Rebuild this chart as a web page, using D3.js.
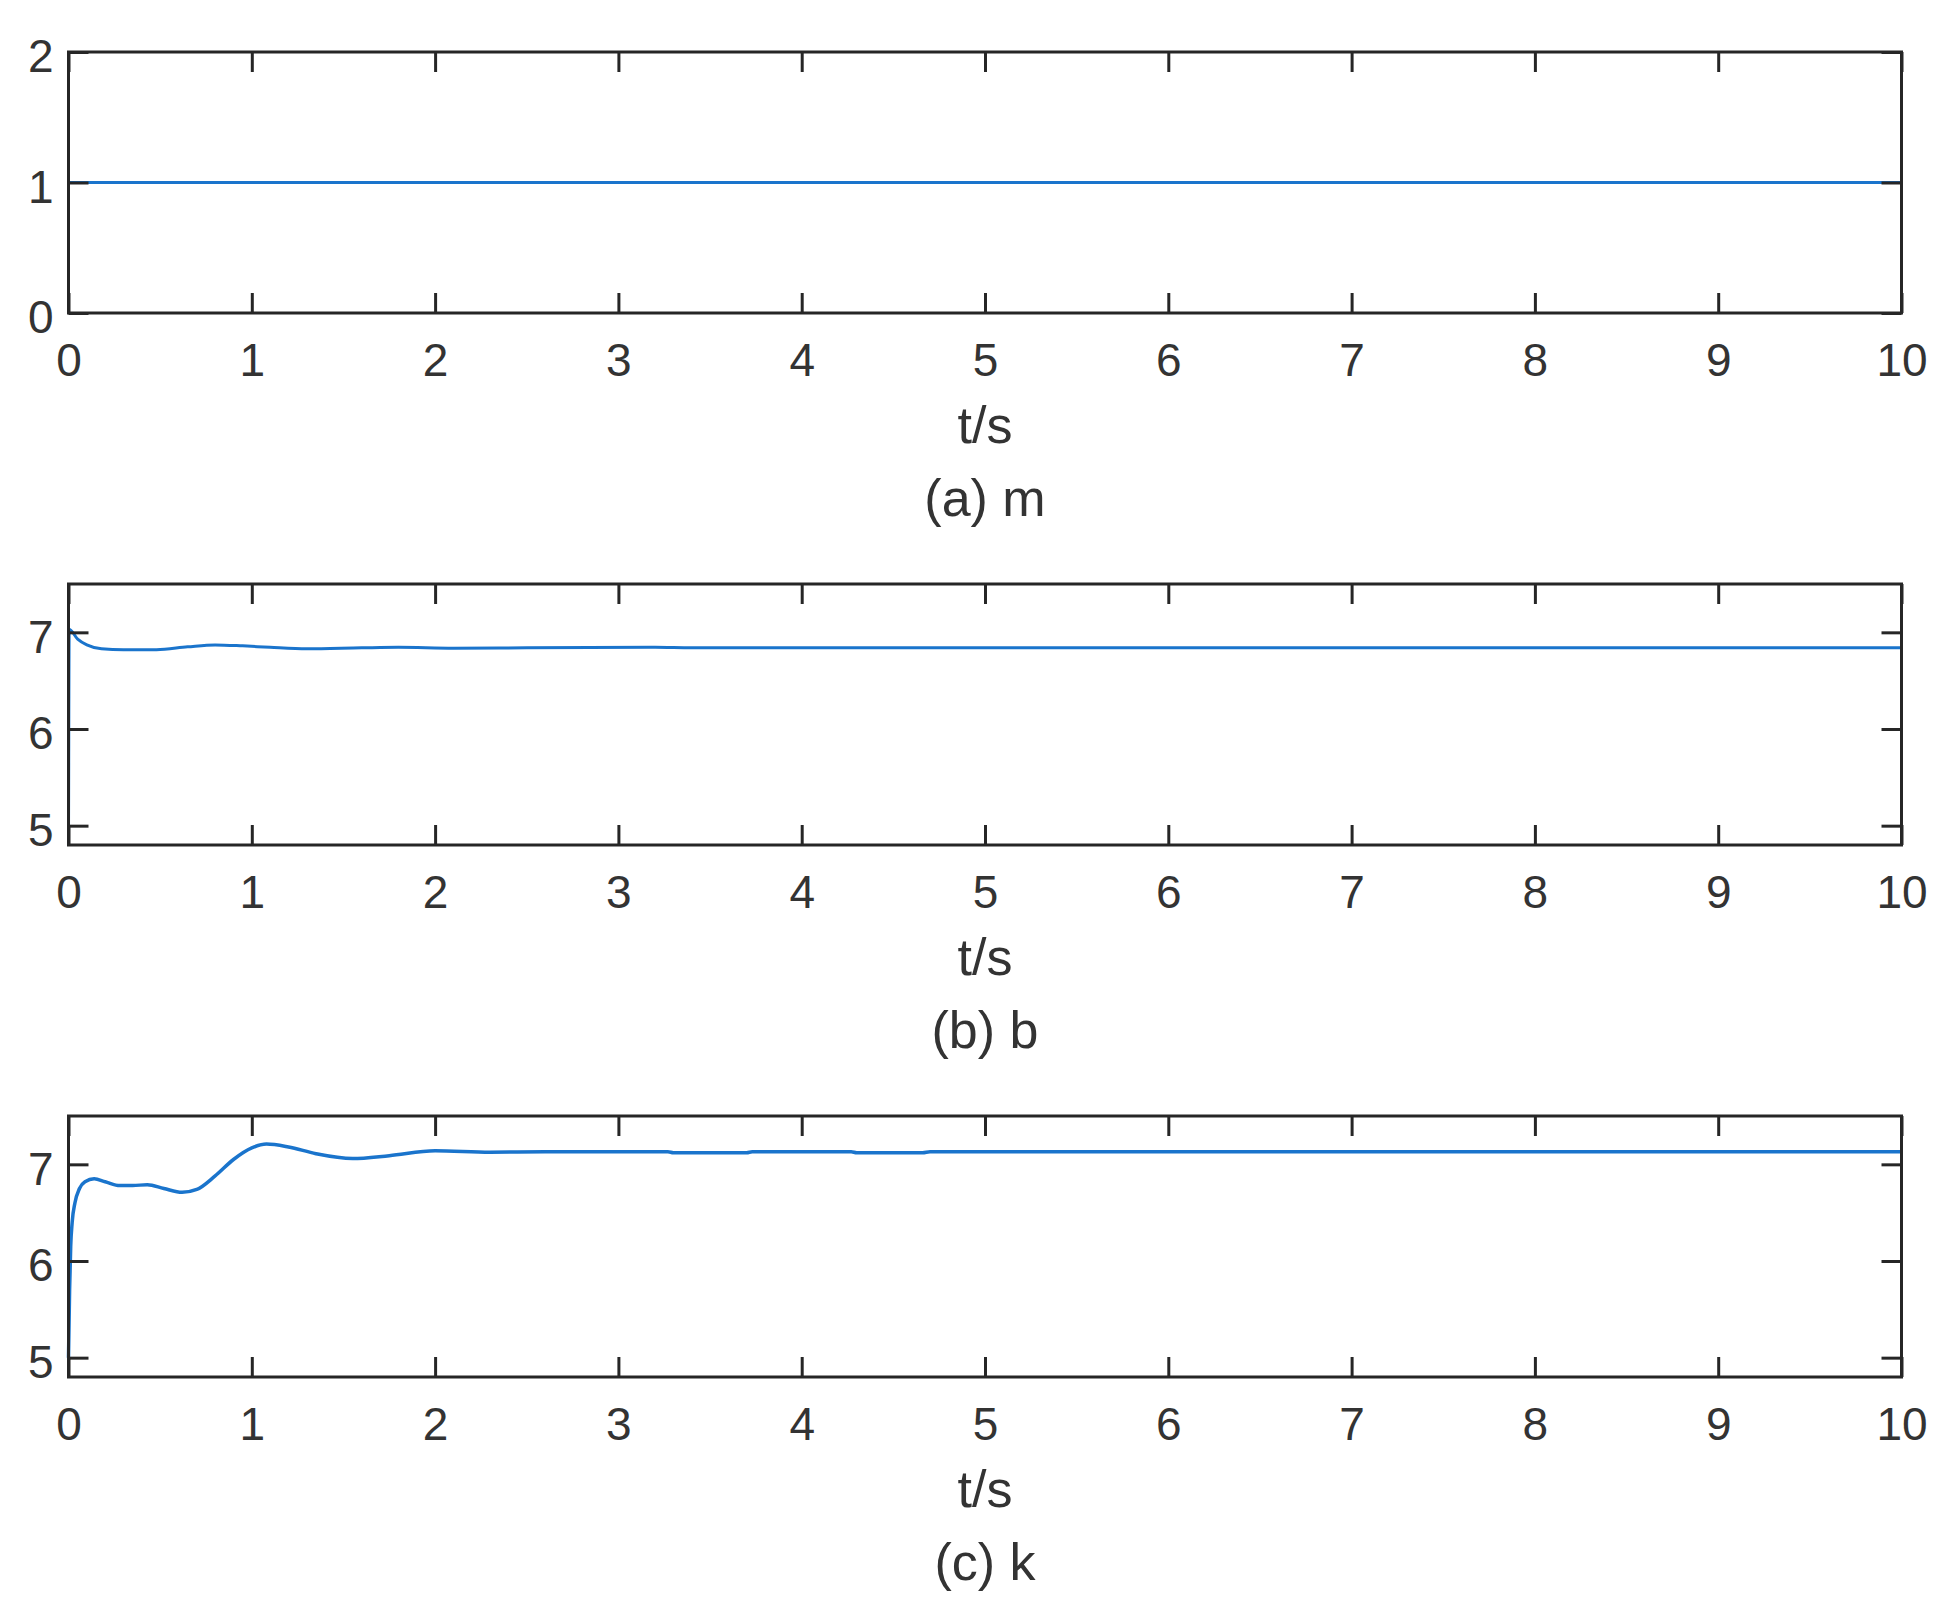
<!DOCTYPE html>
<html>
<head>
<meta charset="utf-8">
<script src="https://cdn.jsdelivr.net/npm/d3@7"></script>
<style>
  body { margin: 0; background: #fff; }
  svg text { font-family: Arial, "Liberation Sans", sans-serif; fill: #333333; }
</style>
</head>
<body>
<svg id="chart" width="1951" height="1609"></svg>
<script>
// x ticks shared by all three panels
var tTicks = [0, 1, 2, 3, 4, 5, 6, 7, 8, 9, 10];

// (a) m
var mTime = [0, 10];
var mValues = [1, 1];
var mTicks = [0, 1, 2];

// (b) b
var bTime = [0, 0.004, 0.05, 0.1, 0.18, 0.3, 0.48, 0.65, 0.8, 0.95, 1.1, 1.3, 1.6, 1.8, 2.1, 2.5, 3.2, 3.4, 10];
var bValues = [4.8, 7.03, 6.93, 6.87, 6.83, 6.82, 6.82, 6.85, 6.87, 6.86, 6.845, 6.83, 6.84, 6.845, 6.835, 6.84, 6.845, 6.84, 6.84];

// (c) k
var kTime = [0, 0.006, 0.012, 0.02, 0.035, 0.06, 0.09, 0.14, 0.2, 0.28, 0.35, 0.43, 0.52, 0.62, 0.7, 0.8, 0.9, 1.0, 1.08, 1.2, 1.35, 1.55, 1.75, 2.0, 2.3, 2.6, 3.27, 3.3, 3.7, 3.73, 4.27, 4.3, 4.66, 4.7, 10];
var kValues = [5.0, 5.7, 6.15, 6.4, 6.6, 6.75, 6.82, 6.85, 6.82, 6.78, 6.78, 6.79, 6.75, 6.71, 6.74, 6.88, 7.05, 7.17, 7.21, 7.18, 7.11, 7.06, 7.09, 7.14, 7.125, 7.13, 7.13, 7.12, 7.12, 7.13, 7.13, 7.12, 7.12, 7.13, 7.13];
var bkTicks = [5, 6, 7];

var panels = [
  {time: mTime, values: mValues, domain: [0, 2], yTicks: mTicks, caption: "(a) m"},
  {time: bTime, values: bValues, domain: [4.8, 7.5], yTicks: bkTicks, caption: "(b) b"},
  {time: kTime, values: kValues, domain: [4.8, 7.5], yTicks: bkTicks, caption: "(c) k"}
];

var svg = d3.select("#chart"),
    left = 68.5,
    right = 1901.5,
    plotH = 261,
    tops = [52, 584, 1116],
    tickLen = 20,
    axisColor = "#262626",
    lineColor = "#1a74cc";

var x = d3.scaleLinear().domain([0, 10]).range([left, right]);

panels.forEach(function (p, i) {
    var top = tops[i], bottom = top + plotH;
    var y = d3.scaleLinear().domain(p.domain).range([bottom, top]);
    var g = svg.append("g");

    // the data line
    var line = d3.line()
        .x(function (d, j) { return x(p.time[j]); })
        .y(function (d) { return y(d); })
        .curve(d3.curveMonotoneX);
    g.append("path")
        .datum(p.values)
        .attr("d", line)
        .attr("fill", "none")
        .attr("stroke", lineColor)
        .attr("stroke-width", i == 2 ? 3.5 : 3);

    // inward ticks on all four sides
    var axes = [
        {ax: d3.axisBottom(x), tr: "translate(0," + bottom + ")", labels: true},
        {ax: d3.axisTop(x), tr: "translate(0," + top + ")", labels: false},
        {ax: d3.axisLeft(y), tr: "translate(" + left + ",0)", labels: true},
        {ax: d3.axisRight(y), tr: "translate(" + right + ",0)", labels: false}
    ];
    axes.forEach(function (a, k) {
        var vals = k < 2 ? tTicks : p.yTicks;
        var ag = g.append("g")
            .attr("transform", a.tr)
            .call(a.ax.tickValues(vals).tickSizeInner(-tickLen).tickSizeOuter(0).tickFormat(d3.format("d")));
        ag.select(".domain").remove();
        ag.selectAll(".tick line").attr("stroke", axisColor).attr("stroke-width", 3);
        if (!a.labels) {
            ag.selectAll(".tick text").remove();
        } else if (k === 0) {
            ag.selectAll(".tick text")
                .attr("y", 63).attr("dy", null)
                .attr("font-size", 46);
        } else {
            ag.selectAll(".tick text")
                .attr("x", -15).attr("dy", "0.43em")
                .attr("font-size", 46);
        }
    });

    // box
    g.append("rect")
        .attr("x", left).attr("y", top)
        .attr("width", right - left).attr("height", plotH)
        .attr("fill", "none")
        .attr("stroke", axisColor)
        .attr("stroke-width", 3);

    // labels
    g.append("text")
        .attr("x", (left + right) / 2).attr("y", bottom + 129.5)
        .attr("text-anchor", "middle")
        .attr("font-size", 52)
        .text("t/s");
    g.append("text")
        .attr("x", (left + right) / 2).attr("y", bottom + 202.5)
        .attr("text-anchor", "middle")
        .attr("font-size", 52)
        .text(p.caption);
});
</script>
</body>
</html>
